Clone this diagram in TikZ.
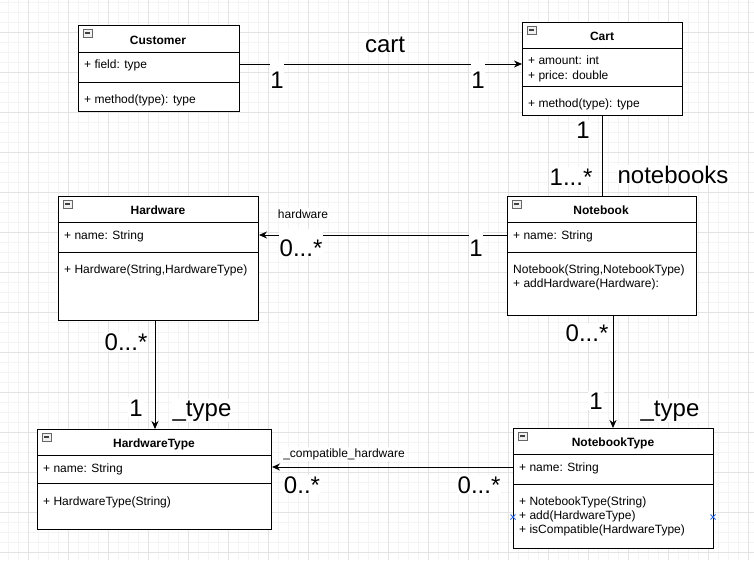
\documentclass[tikz,border=0pt]{standalone}
\usepackage{fontspec}
\setmainfont{Liberation Sans}
\usetikzlibrary{arrows.meta,calc}
\definecolor{gmajor}{HTML}{E3E3E3}
\definecolor{gminor}{HTML}{F4F4F4}
\definecolor{selblue}{HTML}{2D6BE6}
\newcommand\myicon[2]{%
  \draw[line width=0.8pt, draw=gray!80!black, fill=gray!12] (#1+5,#2+4) rectangle (#1+14,#2+12);
  \draw[line width=1.2pt, draw=black!75] (#1+7,#2+8) -- (#1+12,#2+8);}
\begin{document}
\begin{tikzpicture}[x=1pt,y=-1pt,
  cls/.style={draw, fill=white, line width=1pt, inner sep=0pt, anchor=north west},
  ttl/.style={font=\fontsize{12}{14}\selectfont\bfseries, anchor=base, inner sep=0pt},
  mem/.style={font=\fontsize{12}{14}\selectfont, anchor=base west, inner sep=0pt},
  big/.style={font=\fontsize{24}{28}\selectfont, anchor=base, fill=white, inner sep=1pt},
  cut/.style={big, text height=26pt, inner xsep=0.5pt},
  sml/.style={font=\fontsize{12}{14}\selectfont, anchor=base, fill=white, inner sep=1pt},
  assoc/.style={line width=1pt, -{Stealth[length=8pt,width=7pt]}},
  plain/.style={line width=1pt}]
\useasboundingbox (0,0) rectangle (754,560);
\fill[white] (0,0) rectangle (754,560);
% grid
\foreach \x in {8,18,...,754} \draw[gminor, line width=1pt] (\x,0) -- (\x,560);
\foreach \y in {2,12,...,560} \draw[gminor, line width=1pt] (0,\y) -- (754,\y);
\foreach \x in {28,68,...,754} \draw[gmajor, line width=1pt] (\x,0) -- (\x,560);
\foreach \y in {32,72,...,560} \draw[gmajor, line width=1pt] (0,\y) -- (754,\y);

% Customer
\node[cls, minimum width=161, minimum height=86] (cust) at (78,25) {};
\draw[line width=1pt] ([yshift=-27pt]cust.north west) -- ([yshift=-27pt]cust.north east);
\draw[line width=1pt] ([yshift=-57pt]cust.north west) -- ([yshift=-57pt]cust.north east);
\myicon{78}{25}
\node[ttl] (custt) at (158,44) {Customer};
\node[mem] (custf) at (84,68) {+ field: type};
\node[mem] (custm) at (84,103) {+ method(type): type};

% Cart
\node[cls, minimum width=160, minimum height=93] (cart) at (522,22) {};
\draw[line width=1pt] ([yshift=-26pt]cart.north west) -- ([yshift=-26pt]cart.north east);
\draw[line width=1pt] ([yshift=-64pt]cart.north west) -- ([yshift=-64pt]cart.north east);
\myicon{522}{22}
\node[ttl] (cartt) at (602,40) {Cart};
\node[mem] (carta) at (528,64) {+ amount: int};
\node[mem] (cartp) at (528,79) {+ price: double};
\node[mem] (cartm) at (528,107) {+ method(type): type};

% Hardware
\node[cls, minimum width=200, minimum height=124] (hw) at (58,196) {};
\draw[line width=1pt] ([yshift=-26pt]hw.north west) -- ([yshift=-26pt]hw.north east);
\draw[line width=1pt] ([yshift=-56pt]hw.north west) -- ([yshift=-56pt]hw.north east);
\myicon{58}{196}
\node[ttl] (hwt0) at (158,214) {Hardware};
\node[mem] (hwn) at (64,239) {+ name: String};
\node[mem] (hwc) at (64,273) {+ Hardware(String,HardwareType)};

% Notebook
\node[cls, minimum width=189, minimum height=119] (nb) at (507,196) {};
\draw[line width=1pt] ([yshift=-26pt]nb.north west) -- ([yshift=-26pt]nb.north east);
\draw[line width=1pt] ([yshift=-56pt]nb.north west) -- ([yshift=-56pt]nb.north east);
\myicon{507}{196}
\node[ttl] (nbt0) at (601,214) {Notebook};
\node[mem] (nbn) at (513,239) {+ name: String};
\node[mem] (nbc) at (513,273) {Notebook(String,NotebookType)};
\node[mem] (nba) at (513,287) {+ addHardware(Hardware):};

% HardwareType
\node[cls, minimum width=234, minimum height=100] (hwt) at (37,429) {};
\draw[line width=1pt] ([yshift=-26pt]hwt.north west) -- ([yshift=-26pt]hwt.north east);
\draw[line width=1pt] ([yshift=-54pt]hwt.north west) -- ([yshift=-54pt]hwt.north east);
\myicon{37}{429}
\node[ttl] (hwtt) at (154,447) {HardwareType};
\node[mem] (hwtn) at (43,472) {+ name: String};
\node[mem] (hwtc) at (43,505) {+ HardwareType(String)};

% NotebookType
\node[cls, minimum width=200, minimum height=120] (nbt) at (513,428) {};
\draw[line width=1pt] ([yshift=-26pt]nbt.north west) -- ([yshift=-26pt]nbt.north east);
\draw[line width=1pt] ([yshift=-56pt]nbt.north west) -- ([yshift=-56pt]nbt.north east);
\myicon{513}{428}
\node[ttl] (nbtt) at (613,446) {NotebookType};
\node[mem] (nbtn) at (519,471) {+ name: String};
\node[mem] (nbtc) at (519,505) {+ NotebookType(String)};
\node[mem] (nbta) at (519,519) {+ add(HardwareType)};
\node[mem] (nbti) at (519,533) {+ isCompatible(HardwareType)};

% connectors
\draw[assoc] ([yshift=-39pt]cust.north east) -- ([yshift=-42pt]cart.north west);
\draw[plain] ([xshift=80pt]cart.south west) -- ([xshift=95pt]nb.north west);
\draw[assoc] ([yshift=-39pt]nb.north west) -- ([yshift=-39pt]hw.north east);
\draw[assoc] ([xshift=97pt]hw.south west) -- ([xshift=118pt]hwt.north west);
\draw[assoc] ([xshift=106pt]nb.south west) -- ([xshift=100pt]nbt.north west);
\draw[assoc] ([yshift=-39pt]nbt.north west) -- ([yshift=-38pt]hwt.north east);

% labels
\node[big] (lcart) at (385,52) {cart};
\node[cut] (lc1) at (277,88) {1};
\node[cut] (lc2) at (478,88) {1};
\node[big] (ln1) at (583,138) {1};
\node[big] (ln2) at (571,185) {1...*};
\node[big] (lnb) at (673,183) {notebooks};
\node[sml] (lhw) at (303,218) {hardware};
\node[cut] (lh1) at (301,256) {0...*};
\node[cut] (lh2) at (476,256) {1};
\node[big] (lt1) at (126,350) {0...*};
\node[big] (lt2) at (136,416) {1};
\node[big] (lt3) at (202,416) {\_type};
\node[big] (lu1) at (587,341) {0...*};
\node[big] (lu2) at (596,409) {1};
\node[big] (lu3) at (670,416) {\_type};
\node[sml] (lch) at (344,457) {\_compatible\_hardware};
\node[big] (lc01) at (302,493) {0..*};
\node[big] (lc02) at (479,493) {0...*};

% selection markers
\draw[selblue, line width=0.8pt] (510.5,514.5) -- (515.5,519.5) (510.5,519.5) -- (515.5,514.5);
\draw[selblue, line width=0.8pt] (710.5,514.5) -- (715.5,519.5) (710.5,519.5) -- (715.5,514.5);
\end{tikzpicture}
\end{document}
